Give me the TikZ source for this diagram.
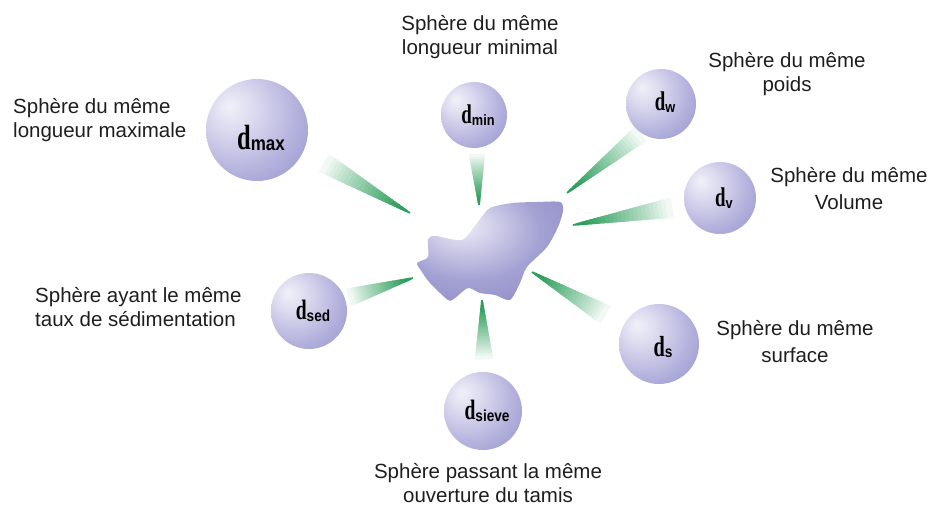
\documentclass[tikz,border=0pt]{standalone}
\usepackage{fontspec}
\setmainfont{Liberation Sans}
\newfontfamily\dfont{Liberation Serif}
\usepackage{graphicx}
\usetikzlibrary{calc}

\definecolor{sphhi}{HTML}{F1F0F9}
\definecolor{sphmid}{HTML}{B0AEDB}
\definecolor{sphlo}{HTML}{8886C1}
\definecolor{raygreen}{HTML}{2E9E5B}
\definecolor{labtext}{HTML}{1E1E1E}

% lavender ball, light spot up and to the left
\pgfdeclareradialshading{sphere}{\pgfpoint{-14bp}{12bp}}{%
  color(0bp)=(sphhi); color(10bp)=(sphhi!70!sphmid); color(30bp)=(sphmid);
  color(52bp)=(sphlo); color(80bp)=(sphlo)}
% same for the grain, light spot nearer the middle
\pgfdeclareradialshading{grainshade}{\pgfpoint{-10bp}{14bp}}{%
  color(0bp)=(sphhi); color(8bp)=(sphhi!60!sphmid); color(24bp)=(sphmid!70!sphlo);
  color(45bp)=(sphlo); color(80bp)=(sphlo)}

% d with its subscript
\newcommand{\dlab}[3]{%
  {\fontsize{#1}{#1}\selectfont\dfont\bfseries\scalebox{.7}[1]{d}}%
  \raisebox{-.16em}{\fontsize{#2}{#2}\selectfont\bfseries\scalebox{.85}[1]{#3}}}

% green wedge fading out, tip #1, middle of the base #2, half width #3
\newcommand{\ray}[3]{%
  \foreach \i in {0,...,23}{
    \pgfmathsetmacro{\fa}{\i/24}
    \pgfmathsetmacro{\fb}{(\i+1.6)/24}
    \pgfmathsetmacro{\wa}{0.8+(#3-0.8)*\fa}
    \pgfmathsetmacro{\wb}{0.8+(#3-0.8)*\fb}
    \pgfmathsetmacro{\pc}{min(100,110*(1-\fa)^0.9)}
    \fill[raygreen!\pc!white]
      ($(#1)!\fa!(#2)+(#1)!\wa pt!90:(#2)-(#1)$) --
      ($(#1)!\fb!(#2)+(#1)!\wb pt!90:(#2)-(#1)$) --
      ($(#1)!\fb!(#2)+(#1)!\wb pt!-90:(#2)-(#1)$) --
      ($(#1)!\fa!(#2)+(#1)!\wa pt!-90:(#2)-(#1)$) -- cycle;
  }}

\begin{document}
\begin{tikzpicture}[x=1pt,y=-1pt,
  ball/.style={circle, shading=sphere, inner sep=0pt},
  dtext/.style={inner sep=0pt, text=black, xshift=4pt},
  lab/.style={inner sep=0pt, text=labtext, font=\fontsize{20.5}{24.5}\selectfont}]
\useasboundingbox (0,0) rectangle (936,513);

% rays, tip at the grain, base toward the ball
\coordinate (tmax) at (410,213);   \coordinate (bmax) at (326,164);
\coordinate (tmin) at (479,205);   \coordinate (bmin) at (477,155);
\coordinate (tw) at (567,193);     \coordinate (bw) at (639,135);
\coordinate (tv) at (573,225);     \coordinate (bv) at (670,208);
\coordinate (ts) at (532,272);     \coordinate (bs) at (604,314);
\coordinate (tsieve) at (482,300); \coordinate (bsieve) at (484,358);
\coordinate (tsed) at (413,278);   \coordinate (bsed) at (350,297);
\ray{tmax}{bmax}{10}
\ray{tmin}{bmin}{8}
\ray{tw}{bw}{9}
\ray{tv}{bv}{10}
\ray{ts}{bs}{10}
\ray{tsieve}{bsieve}{9}
\ray{tsed}{bsed}{9}

% the grain
\shade[shading=grainshade] plot[smooth cycle, tension=.45] coordinates {
  (417,263) (428,257) (428,239) (436,236) (462,240) (477,223) (490,208)
  (513,203) (537,202) (560,202) (563,211) (558,227) (547,247) (527,267)
  (520,283) (510,300) (495,295) (480,293) (468,288) (455,298) (448,300)
  (430,283) (422,272)};
\coordinate (grain) at (490,250);

% equivalent spheres
\node[ball, minimum size=102pt] (dmax) at (257,130) {};
\node[ball, minimum size=66pt] (dmin) at (474,115) {};
\node[ball, minimum size=70pt] (dw) at (661,104) {};
\node[ball, minimum size=72pt] (dv) at (720,198) {};
\node[ball, minimum size=80pt] (ds) at (659,344) {};
\node[ball, minimum size=78pt] (dsieve) at (483,411) {};
\node[ball, minimum size=76pt] (dsed) at (309,311) {};

\node[dtext, yshift=-8pt] (nmax) at (dmax) {\dlab{35}{20}{max}};
\node[dtext] (nmin) at (dmin) {\dlab{27}{15}{min}};
\node[dtext, yshift=2pt] (nw) at (dw) {\dlab{27}{15}{w}};
\node[dtext] (nv) at (dv) {\dlab{27}{15}{v}};
\node[dtext, yshift=-3pt] (ns) at (ds) {\dlab{29}{16}{s}};
\node[dtext] (nsieve) at (dsieve) {\dlab{28}{16}{sieve}};
\node[dtext] (nsed) at (dsed) {\dlab{28}{16}{sed}};

% captions
\node[lab, anchor=north west, align=left] (cmax) at (13,98)
  {Sphère du même\\longueur maximale};
\node[lab, anchor=north, align=center] (cmin) at (480,15)
  {Sphère du même\\longueur minimal};
\node[lab, anchor=north, align=center] (cw) at (787,52)
  {Sphère du même\\poids};
\node[lab, anchor=north, align=center] (cv) at (849,167)
  {Sphère du même\\[3pt]Volume};
\node[lab, anchor=north, align=center] (cs) at (795,320)
  {Sphère du même\\[3pt]surface};
\node[lab, anchor=north west, align=left] (csed) at (35,287)
  {Sphère ayant le même\\taux de sédimentation};
\node[lab, anchor=north, align=center] (csieve) at (488,463)
  {Sphère passant la même\\ouverture du tamis};
\end{tikzpicture}
\end{document}
